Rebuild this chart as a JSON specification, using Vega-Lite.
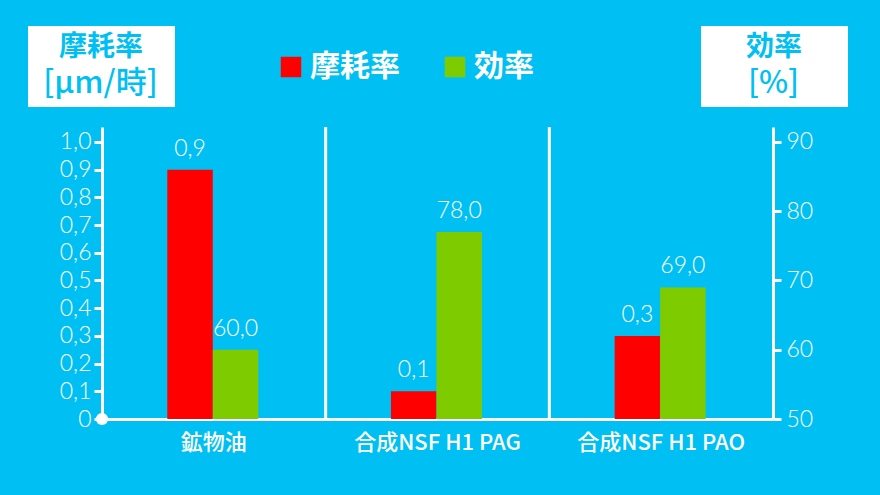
{
  "$schema": "https://vega.github.io/schema/vega-lite/v6.json",
  "width": 671,
  "height": 292,
  "autosize": {"type": "none"},
  "padding": {"left": 102, "top": 127, "right": 107, "bottom": 76},
  "background": "#00C0F3",
  "config": {
    "view": {"stroke": null},
    "axis": {"grid": false, "title": null, "domainColor": "white", "domainWidth": 3, "tickColor": "white", "tickWidth": 3, "labelColor": "white"}
  },
  "data": {
    "values": [
      {"cat": "鉱物油", "series": "摩耗率", "value": 0.9, "label": "0,9"},
      {"cat": "鉱物油", "series": "効率", "value": 60, "label": "60,0"},
      {"cat": "合成NSF H1 PAG", "series": "摩耗率", "value": 0.1, "label": "0,1"},
      {"cat": "合成NSF H1 PAG", "series": "効率", "value": 77, "label": "78,0"},
      {"cat": "合成NSF H1 PAO", "series": "摩耗率", "value": 0.3, "label": "0,3"},
      {"cat": "合成NSF H1 PAO", "series": "効率", "value": 69, "label": "69,0"}
    ]
  },
  "layer": [
    {
      "layer": [
        {
          "transform": [{"filter": "datum.series === '摩耗率' && datum.cat !== '鉱物油'"}],
          "mark": {"type": "rule", "color": "white", "strokeWidth": 3},
          "encoding": {
            "x": {"field": "cat", "type": "nominal", "sort": null, "bandPosition": 0,
              "axis": {"labelAngle": 0, "ticks": false, "labelFont": "Noto Sans CJK JP", "labelFontSize": 22, "labelFontWeight": 500, "labelPadding": 13, "domainColor": "white", "domainWidth": 3}}
          }
        },
        {
          "transform": [{"filter": "datum.series === '摩耗率'"}],
          "mark": {"type": "bar"},
          "encoding": {
            "x": {
              "field": "cat", "type": "nominal", "sort": null,
              "scale": {"domain": ["鉱物油", "合成NSF H1 PAG", "合成NSF H1 PAO"], "paddingInner": 0, "paddingOuter": 0},
              "axis": {"labelAngle": 0, "ticks": false, "labelFont": "Noto Sans CJK JP", "labelFontSize": 22, "labelFontWeight": 500, "labelPadding": 13, "domainColor": "white", "domainWidth": 3}
            },
            "xOffset": {"field": "series", "type": "nominal", "scale": {"domain": ["摩耗率", "効率"], "range": [65.3, 156.3], "paddingInner": 0, "paddingOuter": 0}},
            "y": {
              "field": "value", "type": "quantitative",
              "scale": {"domain": [0, 1.0541], "nice": false},
              "axis": {"values": [0, 0.1, 0.2, 0.3, 0.4, 0.5, 0.6, 0.7, 0.8, 0.9, 1.0], "labelExpr": "datum.value == 0 ? '0' : replace(format(datum.value, '.1f'), '.', ',')", "tickSize": 8, "labelPadding": 3, "labelFont": "Lato", "labelFontSize": 23, "labelFontWeight": 300, "labelOverlap": false}
            },
            "color": {
              "field": "series", "type": "nominal",
              "scale": {"domain": ["摩耗率", "効率"], "range": ["#FF0000", "#7ECC00"]},
              "legend": {"orient": "none", "legendX": 174, "legendY": -75, "direction": "horizontal", "title": null, "symbolType": "square", "symbolSize": 420, "symbolStrokeWidth": 0, "symbolOpacity": 1, "labelFont": "Noto Sans CJK JP", "labelFontSize": 30, "labelFontWeight": "bold", "labelColor": "white", "labelOffset": 4, "columnPadding": 40, "padding": 0}
            },
            "strokeDash": {
              "datum": "[μm/時]", "type": "nominal",
              "legend": {"orient": "none", "legendX": -74, "legendY": -101, "title": "摩耗率", "titleFont": "Noto Sans CJK JP", "titleFontSize": 28, "titleFontWeight": "bold", "titleColor": "#00C0F3", "titleAnchor": "middle", "titlePadding": 6, "labelFont": "Noto Sans CJK JP", "labelFontSize": 31, "labelFontWeight": 500, "labelColor": "#00C0F3", "labelAlign": "center", "labelOffset": -16.5, "symbolType": "M-4.333,-0.05H4.333V0.05H-4.333Z", "symbolSize": 900, "symbolOffset": 50, "symbolOpacity": 0, "symbolStrokeWidth": 0, "fillColor": "white", "padding": 8}
            }
          }
        },
        {
          "transform": [{"filter": "datum.series === '摩耗率'"}],
          "mark": {"type": "text", "baseline": "bottom", "dy": -9, "color": "white", "font": "Lato", "fontSize": 23, "fontWeight": 300},
          "encoding": {
            "x": {"field": "cat", "type": "nominal", "sort": null,
              "axis": {"labelAngle": 0, "ticks": false, "labelFont": "Noto Sans CJK JP", "labelFontSize": 22, "labelFontWeight": 500, "labelPadding": 13, "domainColor": "white", "domainWidth": 3}},
            "xOffset": {"field": "series", "type": "nominal"},
            "y": {"field": "value", "type": "quantitative",
              "axis": {"values": [0, 0.1, 0.2, 0.3, 0.4, 0.5, 0.6, 0.7, 0.8, 0.9, 1.0], "labelExpr": "datum.value == 0 ? '0' : replace(format(datum.value, '.1f'), '.', ',')", "tickSize": 8, "labelPadding": 3, "labelFont": "Lato", "labelFontSize": 23, "labelFontWeight": 300, "labelOverlap": false}},
            "text": {"field": "label"}
          }
        },
        {
          "transform": [{"filter": "datum.series === '摩耗率' && datum.cat === '鉱物油'"}],
          "mark": {"type": "point", "filled": true, "color": "white", "opacity": 1, "size": 150},
          "encoding": {
            "x": {"field": "cat", "type": "nominal", "sort": null, "bandPosition": 0,
              "axis": {"labelAngle": 0, "ticks": false, "labelFont": "Noto Sans CJK JP", "labelFontSize": 22, "labelFontWeight": 500, "labelPadding": 13, "domainColor": "white", "domainWidth": 3}},
            "y": {"datum": 0, "type": "quantitative",
              "axis": {"values": [0, 0.1, 0.2, 0.3, 0.4, 0.5, 0.6, 0.7, 0.8, 0.9, 1.0], "labelExpr": "datum.value == 0 ? '0' : replace(format(datum.value, '.1f'), '.', ',')", "tickSize": 8, "labelPadding": 3, "labelFont": "Lato", "labelFontSize": 23, "labelFontWeight": 300, "labelOverlap": false}}
          }
        }
      ]
    },
    {
      "layer": [
        {
          "transform": [{"filter": "datum.series === '効率'"}],
          "mark": {"type": "bar"},
          "encoding": {
            "x": {"field": "cat", "type": "nominal", "sort": null,
              "axis": {"labelAngle": 0, "ticks": false, "labelFont": "Noto Sans CJK JP", "labelFontSize": 22, "labelFontWeight": 500, "labelPadding": 13, "domainColor": "white", "domainWidth": 3}},
            "xOffset": {"field": "series", "type": "nominal"},
            "y": {
              "field": "value", "type": "quantitative",
              "scale": {"domain": [50, 92.16], "nice": false, "zero": false},
              "axis": {"orient": "right", "values": [50, 60, 70, 80, 90], "format": "d", "tickSize": 8, "labelPadding": 5, "labelFont": "Lato", "labelFontSize": 23, "labelFontWeight": 300, "labelOverlap": false}
            },
            "y2": {"datum": 50},
            "color": {"field": "series", "type": "nominal"},
            "strokeDash": {
              "datum": "[%]", "type": "nominal",
              "legend": {"orient": "none", "legendX": 599, "legendY": -101, "title": "効率", "titleFont": "Noto Sans CJK JP", "titleFontSize": 28, "titleFontWeight": "bold", "titleColor": "#00C0F3", "titleAnchor": "middle", "titlePadding": 6, "labelFont": "Noto Sans CJK JP", "labelFontSize": 31, "labelFontWeight": 500, "labelColor": "#00C0F3", "labelAlign": "center", "labelOffset": -16.5, "symbolType": "M-4.333,-0.05H4.333V0.05H-4.333Z", "symbolSize": 900, "symbolOffset": 50, "symbolOpacity": 0, "symbolStrokeWidth": 0, "fillColor": "white", "padding": 8}
            }
          }
        },
        {
          "transform": [{"filter": "datum.series === '効率'"}],
          "mark": {"type": "text", "baseline": "bottom", "dy": -9, "color": "white", "font": "Lato", "fontSize": 23, "fontWeight": 300},
          "encoding": {
            "x": {"field": "cat", "type": "nominal", "sort": null,
              "axis": {"labelAngle": 0, "ticks": false, "labelFont": "Noto Sans CJK JP", "labelFontSize": 22, "labelFontWeight": 500, "labelPadding": 13, "domainColor": "white", "domainWidth": 3}},
            "xOffset": {"field": "series", "type": "nominal"},
            "y": {"field": "value", "type": "quantitative",
              "axis": {"orient": "right", "values": [50, 60, 70, 80, 90], "format": "d", "tickSize": 8, "labelPadding": 5, "labelFont": "Lato", "labelFontSize": 23, "labelFontWeight": 300, "labelOverlap": false}},
            "text": {"field": "label"}
          }
        }
      ]
    }
  ],
  "resolve": {
    "scale": {"y": "independent", "strokeDash": "independent"},
    "legend": {"strokeDash": "independent"}
  }
}
